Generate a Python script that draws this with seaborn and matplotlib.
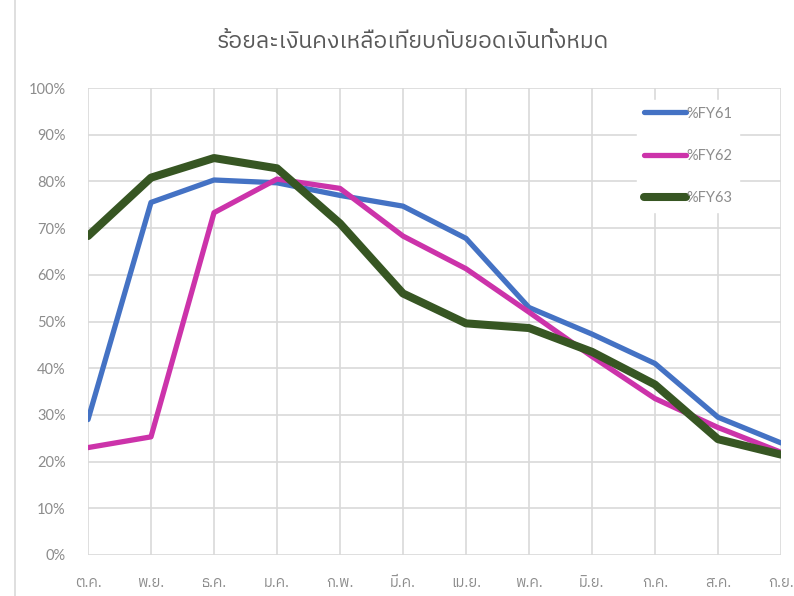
import numpy as np
import pandas as pd
import matplotlib
matplotlib.use('Agg')
import matplotlib.pyplot as plt
import seaborn as sns
from matplotlib import font_manager
from matplotlib.lines import Line2D

months = ['ต.ค.', 'พ.ย.', 'ธ.ค.', 'ม.ค.', 'ก.พ.', 'มี.ค.', 'เม.ย.', 'พ.ค.', 'มิ.ย.', 'ก.ค.', 'ส.ค.', 'ก.ย.']
fy61 = [29.0, 75.5, 80.3, 79.7, 77.0, 74.7, 67.8, 53.0, 47.3, 41.0, 29.5, 24.0]
fy62 = [23.0, 25.3, 73.3, 80.5, 78.5, 68.3, 61.3, 52.0, 42.5, 33.5, 27.3, 22.0]
fy63 = [68.3, 80.8, 85.0, 82.8, 71.0, 56.0, 49.6, 48.6, 43.5, 36.5, 24.8, 21.5]
series_names = ['%FY61', '%FY62', '%FY63']

# หา font ที่มีภาษาไทย
thai_fonts = sorted({f.name for f in font_manager.fontManager.ttflist if 'thai' in f.name.lower()})

sns.set_style('white')
plt.rcParams['font.family'] = thai_fonts[:1] + ['DejaVu Sans']

df = pd.DataFrame({'month': months * 3,
                   'pct': fy61 + fy62 + fy63,
                   'series': np.repeat(series_names, len(months))})

W, H = 794, 596
fig = plt.figure(figsize=(W / 100, H / 100), dpi=100)
ax = fig.add_axes([88 / W, 1 - 555 / H, (781 - 88) / W, (555 - 88) / H])

colors = {'%FY61': '#4472C4', '%FY62': '#CC33AA', '%FY63': '#375623'}
widths = {'%FY61': 3.8, '%FY62': 3.8, '%FY63': 5.8}
for s in series_names:
    sns.lineplot(data=df[df.series == s], x='month', y='pct', color=colors[s],
                 linewidth=widths[s], label=s, ax=ax, sort=False,
                 solid_capstyle='round', solid_joinstyle='round')

ax.set_xlim(0, len(months) - 1)
ax.set_ylim(0, 100)
ax.set_yticks(np.arange(0, 101, 10))
ax.set_yticklabels([f'{v}%' for v in range(0, 101, 10)], family=['Lato', 'DejaVu Sans'])
ax.set_xlabel('')
ax.set_ylabel('')
ax.grid(True, color='#D9D9D9', linewidth=1.2)
ax.set_axisbelow(True)
for sp in ax.spines.values():
    sp.set_visible(False)
ax.tick_params(axis='both', length=0, colors='#8C8C8C', labelsize=10.5)
ax.tick_params(axis='x', pad=15)
ax.tick_params(axis='y', pad=16)

leg = ax.legend(loc='upper left', bbox_to_anchor=(637 / W, 1 - 100 / H),
                bbox_transform=fig.transFigure, frameon=True,
                fancybox=False, edgecolor='white', framealpha=1,
                prop={'family': ['Lato', 'DejaVu Sans'], 'size': 10.5},
                labelspacing=1.95, handlelength=2.9, handletextpad=0.05,
                borderpad=0.45, borderaxespad=0)
for t in leg.get_texts():
    t.set_color('#8C8C8C')

fig.text(413 / W, 1 - 42 / H, 'ร้อยละเงินคงเหลือเทียบกับยอดเงินทั้งหมด', ha='center', va='center',
         fontsize=16.5, color='#595959')

# เส้นขอบด้านซ้ายของกรอบ chart
fig.add_artist(Line2D([15 / W, 15 / W], [0, 1], transform=fig.transFigure,
                      color='#D9D9D9', linewidth=1.2))

fig.savefig('out.png', dpi=100)
